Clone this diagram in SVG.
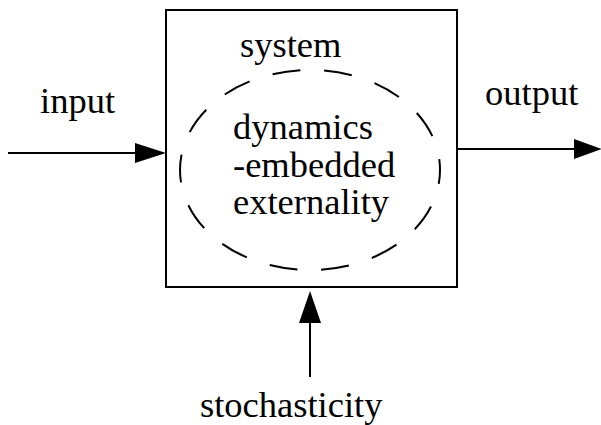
<svg xmlns="http://www.w3.org/2000/svg" width="601" height="425" viewBox="0 0 601 425">
  <style>
    .lbl { font-family: "Liberation Serif", "Times New Roman", serif; font-size: 36.5px; fill: #000; }
    .line { stroke: #000; stroke-width: 2; fill: none; }
    .head { fill: #000; stroke: none; }
  </style>
  <rect width="601" height="425" fill="#fff"/>

  <!-- system block -->
  <g id="system">
    <rect class="line" x="166" y="10" width="291" height="277"/>
    <text class="lbl" x="240" y="57">system</text>
  </g>

  <!-- embedded externality region -->
  <g id="externality">
    <ellipse class="line" cx="310" cy="170" rx="130" ry="100" stroke-dasharray="28 24" stroke-dashoffset="14"/>
    <text class="lbl" x="233" y="139">dynamics</text>
    <text class="lbl" x="233" y="177">-embedded</text>
    <text class="lbl" x="233" y="214">externality</text>
  </g>

  <g id="input">
    <text class="lbl" x="40" y="113">input</text>
  </g>
  <g id="output">
    <text class="lbl" x="485" y="105">output</text>
  </g>
  <g id="stochasticity">
    <text class="lbl" x="200" y="417">stochasticity</text>
  </g>

  <!-- connectors -->
  <g id="connectors">
    <line class="line" x1="8" y1="153" x2="140" y2="153"/>
    <polygon class="head" points="166,153 135,143 135,163"/>
    <line class="line" x1="457" y1="149" x2="578" y2="149"/>
    <polygon class="head" points="602,149 574,139 574,159"/>
    <line class="line" x1="310" y1="377" x2="310" y2="318"/>
    <polygon class="head" points="310,291 299,323 321,323"/>
  </g>
</svg>
